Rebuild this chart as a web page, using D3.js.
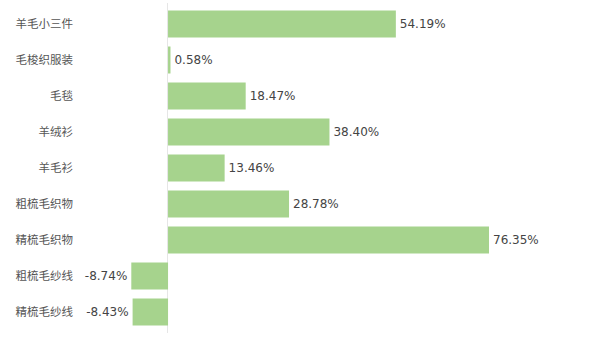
<!DOCTYPE html>
<html>
<head>
<meta charset="utf-8">
<script src="https://cdn.jsdelivr.net/npm/d3@7"></script>
<style>
  html, body { margin: 0; padding: 0; background: #fff; }
  svg { display: block; }
</style>
</head>
<body>
<svg id="chart" width="600" height="337"></svg>
<script>
// Year-on-year change by wool product category (%)
const categories = ["羊毛小三件", "毛梭织服装", "毛毯", "羊绒衫", "羊毛衫", "粗梳毛织物", "精梳毛织物", "粗梳毛纱线", "精梳毛纱线"];
const values = [54.19, 0.58, 18.47, 38.40, 13.46, 28.78, 76.35, -8.74, -8.43];

const svg = d3.select("#chart");
const W = 600, H = 337;

const x = d3.scaleLinear().domain([-8.74, 76.35]).range([131.3, 489]);
const y = d3.scaleBand().domain(categories).range([6, 330]).paddingInner(0.25).paddingOuter(0.125);

const rows = categories.map((c, i) => ({ c, v: values[i] }));

// zero line
svg.append("line")
  .attr("x1", x(0) - 0.5).attr("x2", x(0) - 0.5)
  .attr("y1", 3).attr("y2", 333)
  .attr("stroke", "#e6e6e6").attr("stroke-width", 1);

// bars
svg.append("g").selectAll("rect").data(rows).join("rect")
  .attr("x", d => Math.min(x(0), x(d.v)))
  .attr("y", d => y(d.c))
  .attr("width", d => Math.abs(x(d.v) - x(0)))
  .attr("height", y.bandwidth())
  .attr("fill", "#a6d38d");

// category labels
svg.append("g").selectAll("text").data(rows).join("text")
  .attr("x", 73)
  .attr("y", d => y(d.c) + y.bandwidth() / 2)
  .attr("dy", "0.35em")
  .attr("text-anchor", "end")
  .attr("font-family", "'Noto Sans CJK SC', sans-serif")
  .attr("font-size", 11.5)
  .attr("fill", "#555")
  .text(d => d.c);

// value labels
svg.append("g").selectAll("text").data(rows).join("text")
  .attr("x", d => d.v >= 0 ? x(d.v) + 4 : x(d.v) - 4)
  .attr("y", d => y(d.c) + y.bandwidth() / 2)
  .attr("dy", "0.35em")
  .attr("text-anchor", d => d.v >= 0 ? "start" : "end")
  .attr("font-family", "'DejaVu Sans', sans-serif")
  .attr("font-size", 12)
  .attr("fill", "#444")
  .text(d => d.v.toFixed(2) + "%");
</script>
</body>
</html>
